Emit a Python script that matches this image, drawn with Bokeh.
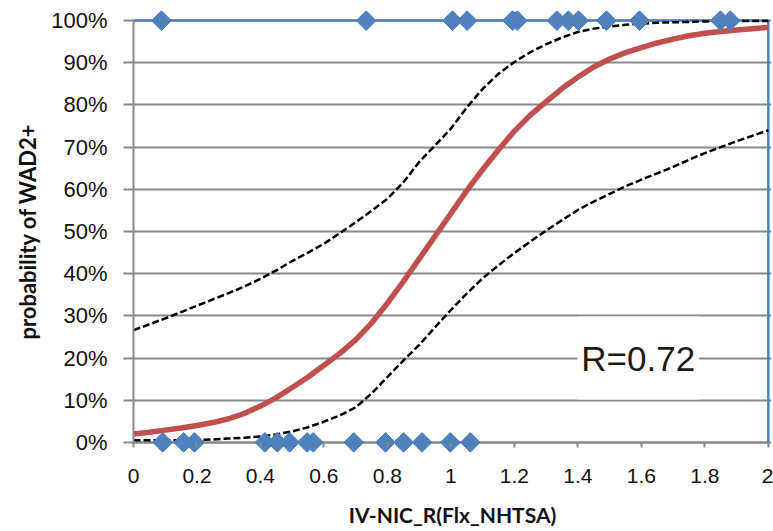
from math import pi
from bokeh.plotting import figure
from bokeh.models import Range1d, FixedTicker, Label
from bokeh.embed import file_html
from bokeh.resources import INLINE

# ---- data ----
curve_x = [0.0, 0.05, 0.1, 0.15, 0.2, 0.25, 0.3, 0.35, 0.4, 0.45, 0.5,
           0.55, 0.6, 0.65, 0.7, 0.75, 0.8, 0.85, 0.9, 0.95, 1.0,
           1.05, 1.1, 1.15, 1.2, 1.25, 1.3, 1.35, 1.4, 1.45, 1.5,
           1.55, 1.6, 1.65, 1.7, 1.75, 1.8, 1.85, 1.9, 1.95, 2.0]
fit_pct = [2.0, 2.4, 2.9, 3.4, 4.0, 4.7, 5.6, 6.9, 8.6, 10.6, 13.0,
           15.5, 18.3, 21.1, 24.3, 28.3, 33.0, 38.1, 43.5, 48.9, 54.3,
           59.7, 64.7, 69.4, 73.8, 77.6, 80.8, 83.9, 86.6, 89.0, 90.9,
           92.4, 93.6, 94.7, 95.6, 96.4, 97.0, 97.4, 97.8, 98.1, 98.4]
upper_pct = [26.6, 28.0, 29.4, 30.9, 32.4, 33.9, 35.4, 37.0, 38.8, 40.8, 43.0,
             45.0, 47.1, 49.6, 52.2, 54.9, 57.8, 61.6, 66.5, 70.4, 74.4,
             79.4, 83.8, 87.4, 90.2, 92.5, 94.4, 96.0, 97.3, 98.1, 98.6,
             99.0, 99.3, 99.5, 99.6, 99.7, 99.8, 99.8, 99.9, 99.9, 99.9]
lower_pct = [0.5, 0.5, 0.5, 0.5, 0.6, 0.7, 0.9, 1.1, 1.4, 1.9, 2.6,
             3.6, 4.9, 6.4, 8.3, 11.6, 15.5, 19.4, 23.1, 27.3, 31.4,
             35.3, 38.9, 42.0, 44.9, 47.6, 50.2, 52.7, 55.1, 57.1, 58.9,
             60.7, 62.3, 63.8, 65.3, 67.0, 68.6, 70.0, 71.4, 72.7, 74.0]

pos_x = [0.088, 0.733, 1.005, 1.051, 1.194, 1.209, 1.334, 1.370, 1.402,
         1.490, 1.594, 1.849, 1.880]
pos_pct = [100] * len(pos_x)
neg_x = [0.092, 0.158, 0.192, 0.414, 0.453, 0.492, 0.547, 0.566, 0.694,
         0.794, 0.851, 0.909, 0.998, 1.061]
neg_pct = [0] * len(neg_x)

x_ticks = [0, 0.2, 0.4, 0.6, 0.8, 1.0, 1.2, 1.4, 1.6, 1.8, 2.0]
x_tick_labels = ["0", "0.2", "0.4", "0.6", "0.8", "1", "1.2", "1.4", "1.6", "1.8", "2"]
y_ticks = [0, 10, 20, 30, 40, 50, 60, 70, 80, 90, 100]
y_tick_labels = ["0%", "10%", "20%", "30%", "40%", "50%", "60%", "70%", "80%", "90%", "100%"]

X_MIN, X_MAX = 0, 2
Y_MIN, Y_MAX = 0, 100
r_text = "R=0.72"
r_x, r_y = 1.59, 20

BLUE = "#4F81BD"
RED = "#C0504D"
GRAY = "#888888"

p = figure(width=773, height=531, output_backend="svg", toolbar_location=None,
           x_range=Range1d(0, 2.01), y_range=Range1d(-2.4, 102.4),
           min_border_left=133, min_border_right=2, min_border_top=10,
           min_border_bottom=79)
p.outline_line_color = None
p.background_fill_color = "white"
p.border_fill_color = "white"

# grid
p.xgrid.visible = False
p.ygrid.ticker = FixedTicker(ticks=y_ticks)
p.ygrid.grid_line_color = GRAY
p.ygrid.grid_line_width = 2

# y axis
ya = p.yaxis[0]
ya.ticker = FixedTicker(ticks=y_ticks)
ya.bounds = (Y_MIN, Y_MAX)
ya.major_label_overrides = {t: l for t, l in zip(y_ticks, y_tick_labels)}
ya.axis_line_color = GRAY
ya.axis_line_width = 2
ya.major_tick_line_color = GRAY
ya.major_tick_line_width = 2
ya.major_tick_out = 10
ya.major_tick_in = 0
ya.minor_tick_line_color = None
ya.major_label_text_font = "Liberation Sans"
ya.major_label_text_font_size = "22px"
ya.major_label_text_color = "#111111"
ya.major_label_standoff = 16
ya.axis_label = "probability of WAD2+"
ya.axis_label_text_font = "Lato"
ya.axis_label_text_font_style = "bold"
ya.axis_label_text_font_size = "22px"
ya.axis_label_text_color = "#111111"
ya.axis_label_standoff = 7

# x axis
xa = p.xaxis[0]
xa.ticker = FixedTicker(ticks=x_ticks)
xa.bounds = (X_MIN, X_MAX)
xa.major_label_overrides = {t: l for t, l in zip(x_ticks, x_tick_labels)}
xa.axis_line_color = None
xa.major_tick_line_color = GRAY
xa.major_tick_line_width = 2
xa.major_tick_in = 10
xa.major_tick_out = -5
xa.minor_tick_line_color = None
xa.major_label_text_font = "Liberation Sans"
xa.major_label_text_font_size = "21px"
xa.major_label_text_color = "#111111"
xa.major_label_standoff = 16
xa.axis_label = "IV-NIC_R(Flx_NHTSA)"
xa.axis_label_text_font = "Lato"
xa.axis_label_text_font_style = "bold"
xa.axis_label_text_font_size = "21px"
xa.axis_label_text_color = "#111111"
xa.axis_label_standoff = 16

# 0% baseline (axis line)
p.line(x=[X_MIN, X_MAX], y=[Y_MIN, Y_MIN], line_color=GRAY, line_width=2)
# blue frame lines (top and right)
p.line(x=[X_MIN, X_MAX], y=[Y_MAX, Y_MAX], line_color=BLUE, line_width=2.5)
p.line(x=[X_MAX, X_MAX], y=[Y_MIN, Y_MAX], line_color=BLUE, line_width=2.5)

# confidence band
p.line(x=curve_x, y=upper_pct, line_color="black", line_width=2.5, line_dash="7 3",
       line_join="round")
p.line(x=curve_x, y=lower_pct, line_color="black", line_width=2.5, line_dash="7 3",
       line_join="round")
# fitted curve
p.line(x=curve_x, y=fit_pct, line_color=RED, line_width=5.5, line_join="round")

# observations
p.scatter(x=pos_x, y=pos_pct, marker="square", angle=pi / 4, size=14,
          fill_color=BLUE, line_color=BLUE)
p.scatter(x=neg_x, y=neg_pct, marker="square", angle=pi / 4, size=14,
          fill_color=BLUE, line_color=BLUE)

lab = Label(x=r_x, y=r_y, text=r_text, text_align="center", text_baseline="middle",
            text_font="Liberation Sans", text_font_size="35px", text_color="#1a1a1a",
            background_fill_color="white", padding=(4, 22))
p.add_layout(lab)

open("out.html", "w").write(file_html(p, INLINE))
